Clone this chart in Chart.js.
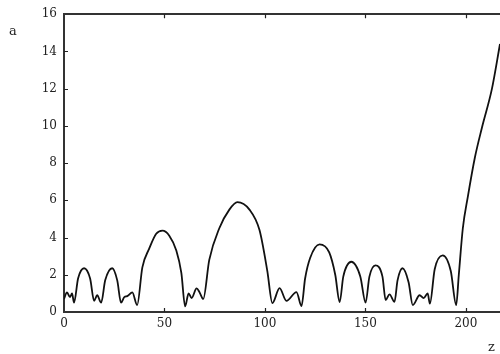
<!DOCTYPE html>
<html>
<head>
<meta charset="utf-8">
<script src="https://cdn.jsdelivr.net/npm/chart.js@4.4.1/dist/chart.umd.min.js"></script>
<style>
  body { margin: 0; background: #fff; }
  #wrap { width: 500px; height: 354px; }
</style>
</head>
<body>
<div id="wrap"><canvas id="myChart" width="500" height="354"></canvas></div>
<script>
// values (z along the bottom, a up the side)
const zValues = [
  0, 1.5, 3, 4, 5, 7, 10, 13, 15, 16.5, 18.5, 20.5, 24, 26.5, 28.4,
  30, 31.5, 34, 36.4, 39, 42.4, 45.9, 49, 52.4, 55.9, 58.4, 60.3,
  62, 63.5, 66, 67.5, 69.3, 72.3, 77.3, 82.3, 86.3, 92.3, 97.3, 101.2, 103.7,
  107.3, 110.7, 115.7, 118.2, 120, 122.5, 127.2, 132, 135, 137.2,
  139, 143, 147.5, 150.1, 152, 155, 158.5, 160.1, 162, 164.5,
  166, 168.5, 171.5, 173.6, 177, 179, 181, 182.1, 184.5, 188.5, 192.5, 195.2,
  196.5, 198.5, 201, 204.5, 208, 213, 217
];
const aValues = [
  0.7, 1.05, 0.8, 1.0, 0.5, 1.8, 2.35, 1.8, 0.6, 0.9, 0.5, 1.7, 2.35, 1.7, 0.5,
  0.8, 0.85, 1.05, 0.37, 2.4, 3.4, 4.2, 4.37, 4.1, 3.3, 2.1, 0.3,
  1.0, 0.75, 1.27, 1.05, 0.7, 2.8, 4.5, 5.5, 5.9, 5.5, 4.4, 2.2, 0.48,
  1.28, 0.6, 1.07, 0.32, 1.8, 2.9, 3.63, 3.2, 2.0, 0.53,
  1.9, 2.7, 1.9, 0.5, 1.9, 2.5, 1.9, 0.64, 0.95, 0.55,
  1.7, 2.35, 1.6, 0.37, 0.9, 0.75, 1.0, 0.45, 2.3, 3.04, 2.2, 0.37,
  2.0, 4.5, 6.2, 8.3, 9.9, 12.0, 14.4
];
const xTicks = [0, 50, 100, 150, 200];
const yTicks = [0, 2, 4, 6, 8, 10, 12, 14, 16];

const ink = "#222";
const tickFont = { family: "DejaVu Serif", size: 12 };

const points = zValues.map((z, i) => ({ x: z, y: aValues[i] }));

// inward tick marks plus the "a" and "z" axis letters
const frameMarks = {
  id: "frameMarks",
  afterDraw(chart) {
    const ctx = chart.ctx;
    const area = chart.chartArea;
    const xs = chart.scales.x;
    const ys = chart.scales.y;
    ctx.save();
    ctx.strokeStyle = ink;
    ctx.lineWidth = 1.2;
    ctx.beginPath();
    xTicks.slice(1).forEach(v => {
      const px = Math.round(xs.getPixelForValue(v)) + 0.5;
      ctx.moveTo(px, area.bottom);
      ctx.lineTo(px, area.bottom - 4);
      ctx.moveTo(px, area.top);
      ctx.lineTo(px, area.top + 4);
    });
    yTicks.slice(1, -1).forEach(v => {
      const py = Math.round(ys.getPixelForValue(v)) + 0.5;
      ctx.moveTo(area.left, py);
      ctx.lineTo(area.left + 4, py);
    });
    ctx.stroke();

    ctx.fillStyle = ink;
    ctx.font = "13px 'DejaVu Serif'";
    ctx.textBaseline = "alphabetic";
    ctx.textAlign = "left";
    ctx.fillText("a", 9, 35);
    ctx.fillText("z", 488, 351);
    ctx.restore();
  }
};

const ctx = document.getElementById("myChart").getContext("2d");
const myChart = new Chart(ctx, {
  type: "line",
  data: {
    datasets: [
      {
        data: points,
        borderColor: "#111",
        borderWidth: 1.8,
        pointRadius: 0,
        fill: false,
        cubicInterpolationMode: "monotone",
      },
    ],
  },
  options: {
    responsive: false,
    animation: false,
    devicePixelRatio: 1,
    layout: { padding: { top: 12, right: 0, left: 0, bottom: 0 } },
    plugins: { legend: { display: false }, tooltip: { enabled: false } },
    scales: {
      x: {
        type: "linear",
        position: "bottom",
        min: 0,
        max: 217,
        afterBuildTicks: s => { s.ticks = xTicks.map(v => ({ value: v })); },
        afterFit: s => { s.height = 42; },
        ticks: { font: tickFont, color: ink, padding: 5, maxRotation: 0 },
        grid: { display: false, drawTicks: false },
        border: { display: true, color: "#333", width: 2 },
      },
      x2: {
        type: "linear",
        position: "top",
        min: 0,
        max: 217,
        ticks: { display: false },
        afterFit: s => { s.height = 0; },
        grid: { display: false, drawTicks: false },
        border: { display: true, color: "#333", width: 2 },
      },
      y: {
        type: "linear",
        min: 0,
        max: 16,
        afterBuildTicks: s => { s.ticks = yTicks.map(v => ({ value: v })); },
        afterFit: s => { s.width = 64; },
        ticks: { font: tickFont, color: ink, padding: 7 },
        grid: { display: false, drawTicks: false },
        border: { display: true, color: "#333", width: 2 },
      },
    },
  },
  plugins: [frameMarks],
});
</script>
</body>
</html>
